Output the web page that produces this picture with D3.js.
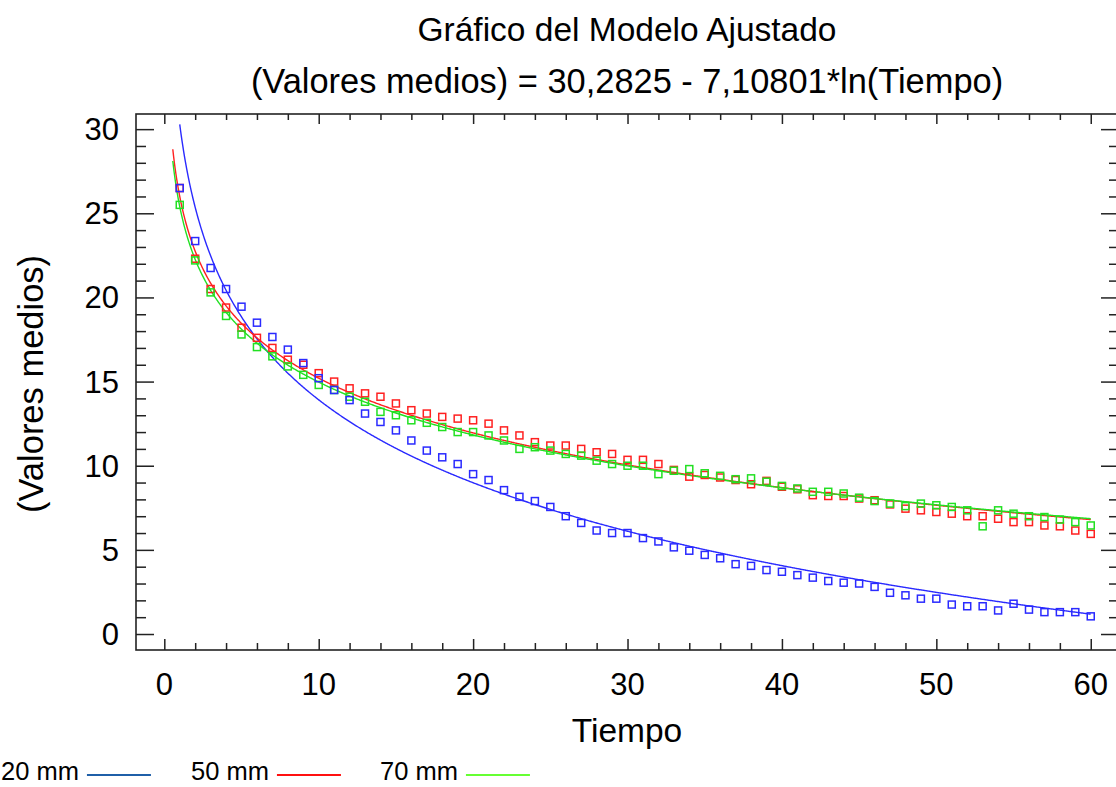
<!DOCTYPE html>
<html>
<head>
<meta charset="utf-8">
<script src="https://cdn.jsdelivr.net/npm/d3@7"></script>
<style>
  html, body { margin: 0; padding: 0; background: #fff; }
  svg { display: block; font-family: "Liberation Sans", Arial, sans-serif; }
</style>
</head>
<body>
<svg id="chart" width="1116" height="787"></svg>
<script>
// ---------------- data ----------------
const tiempo = d3.range(1, 61);
const seriesNames = ["20 mm", "50 mm", "70 mm"];
const values20 = [26.5,23.35,21.75,20.5,19.45,18.5,17.65,16.9,16.1,15.2,
  14.5,13.9,13.1,12.6,12.1,11.5,10.9,10.5,10.1,9.5,
  9.15,8.55,8.15,7.9,7.55,7.0,6.6,6.15,6.0,6.0,
  5.7,5.5,5.15,4.95,4.7,4.5,4.15,4.05,3.8,3.7,
  3.5,3.35,3.15,3.05,3.0,2.8,2.45,2.3,2.1,2.1,
  1.75,1.65,1.65,1.4,1.8,1.45,1.3,1.3,1.3,1.05];
const values50 = [26.5,22.3,20.5,19.4,18.2,17.6,17.0,16.3,16.0,15.5,
  15.0,14.6,14.3,14.1,13.7,13.3,13.1,12.9,12.8,12.7,
  12.5,12.1,11.8,11.4,11.2,11.2,11.0,10.8,10.7,10.35,
  10.35,10.1,9.75,9.35,9.45,9.3,9.15,8.9,9.1,8.75,
  8.6,8.25,8.2,8.2,8.05,7.95,7.7,7.45,7.35,7.25,
  7.15,7.0,7.0,6.85,6.65,6.65,6.45,6.4,6.15,5.95];
const values70 = [25.5,22.2,20.3,18.9,17.8,17.05,16.5,15.9,15.4,14.8,
  14.5,14.1,13.8,13.2,13.0,12.7,12.55,12.3,12.0,12.0,
  11.8,11.5,11.0,11.1,10.9,10.7,10.6,10.3,10.1,10.0,
  10.0,9.5,9.7,9.8,9.55,9.4,9.2,9.25,9.05,8.8,
  8.65,8.45,8.45,8.35,8.1,7.9,7.75,7.6,7.75,7.65,
  7.55,7.35,6.4,7.35,7.15,7.0,6.95,6.8,6.65,6.45];
// fitted model  y = a - b*ln(Tiempo)
const fitIntercept = [30.2825, 26.0, 25.4];
const fitSlope = [7.10801, 4.69, 4.53];
const fitStart = [1, 0.55, 0.55];
const seriesColors = ["#2a2aff", "#ff2020", "#22e022"];
const legendColors = ["#1f5fa8", "#ff1010", "#66ff33"];
const xTicks = [0, 10, 20, 30, 40, 50, 60];
const yTicks = [0, 5, 10, 15, 20, 25, 30];
const titleText = "Gráfico del Modelo Ajustado";
const subtitleText = "(Valores medios) = 30,2825 - 7,10801*ln(Tiempo)";
const xTitle = "Tiempo";
const yTitle = "(Valores medios)";

const allValues = [values20, values50, values70];

// ---------------- layout ----------------
const svg = d3.select("#chart");
const L = 136, T = 114, R = 1119, B = 650;
const x = d3.scaleLinear().domain([-1.833, 61.83]).range([L, R]);
const y = d3.scaleLinear().domain([-0.95, 30.9]).range([B, T]);

const axisColor = "#222";

// Titles
svg.append("text").attr("x", 627).attr("y", 41).attr("text-anchor", "middle")
  .attr("font-size", 33.5).attr("fill", "#000").text(titleText);
svg.append("text").attr("x", 627).attr("y", 93).attr("text-anchor", "middle")
  .attr("font-size", 34.4).attr("fill", "#000").text(subtitleText);

// Axes with ticks (inward)
const minorX = d3.range(0, 61, 2).filter(v => v % 10 !== 0);
const minorY = d3.range(0, 31, 1).filter(v => v % 5 !== 0);

function drawAxis(gen, transform, tickVals, size) {
  const g = svg.append("g").attr("transform", transform)
    .call(gen.tickValues(tickVals).tickSize(size).tickFormat(""));
  g.select(".domain").remove();
  g.selectAll(".tick line").attr("stroke", axisColor).attr("stroke-width", 1.5);
  return g;
}
// bottom: ticks pointing up
drawAxis(d3.axisTop(x), `translate(0,${B})`, xTicks, 11);
drawAxis(d3.axisTop(x), `translate(0,${B})`, minorX, 7);
// top: ticks pointing down
drawAxis(d3.axisBottom(x), `translate(0,${T})`, xTicks, 10);
drawAxis(d3.axisBottom(x), `translate(0,${T})`, minorX, 6);
// left: ticks pointing right
drawAxis(d3.axisRight(y), `translate(${L},0)`, yTicks, 18);
drawAxis(d3.axisRight(y), `translate(${L},0)`, minorY, 10);
// right: ticks pointing left
drawAxis(d3.axisLeft(y), `translate(${R},0)`, yTicks, 18);
drawAxis(d3.axisLeft(y), `translate(${R},0)`, minorY, 10);

// frame
svg.append("rect").attr("x", L).attr("y", T).attr("width", R - L).attr("height", B - T)
  .attr("fill", "none").attr("stroke", axisColor).attr("stroke-width", 1.6);

// Tick labels
svg.append("g").selectAll("text").data(xTicks).join("text")
  .attr("x", d => x(d)).attr("y", 695).attr("text-anchor", "middle")
  .attr("font-size", 31).attr("fill", "#000").text(d => d);
svg.append("g").selectAll("text").data(yTicks).join("text")
  .attr("x", 119).attr("y", d => y(d) + 11).attr("text-anchor", "end")
  .attr("font-size", 31).attr("fill", "#000").text(d => d);

// Axis titles
svg.append("text").attr("x", 627).attr("y", 742).attr("text-anchor", "middle")
  .attr("font-size", 33.5).attr("fill", "#000").text(xTitle);
svg.append("text").attr("transform", "translate(43,384) rotate(-90)")
  .attr("text-anchor", "middle").attr("font-size", 34.5).attr("fill", "#000").text(yTitle);

// Plot content, clipped
svg.append("clipPath").attr("id", "clip").append("rect")
  .attr("x", L).attr("y", T).attr("width", R - L).attr("height", B - T);
const plot = svg.append("g").attr("clip-path", "url(#clip)");

const line = d3.line().x(d => x(d[0])).y(d => y(d[1]));
allValues.forEach((vals, i) => {
  const xs = d3.range(fitStart[i], 60.0001, 0.05);
  const pts = xs.map(t => [t, fitIntercept[i] - fitSlope[i] * Math.log(t)]);
  plot.append("path").datum(pts).attr("d", line).attr("fill", "none")
    .attr("stroke", seriesColors[i]).attr("stroke-width", 1.4);
});
// points: draw 50 mm, 70 mm, then 20 mm on top
[1, 2, 0].forEach(i => {
  plot.append("g").selectAll("rect").data(allValues[i]).join("rect")
    .attr("x", (d, j) => x(tiempo[j]) - 3.5)
    .attr("y", d => y(d) - 3.5)
    .attr("width", 7).attr("height", 7)
    .attr("fill", "none").attr("stroke", seriesColors[i]).attr("stroke-width", 1.5);
});

// Legend
const legendX = [1, 191, 380];
seriesNames.forEach((name, i) => {
  const t = svg.append("text").attr("x", legendX[i]).attr("y", 780)
    .attr("font-size", 25.5).attr("fill", "#000").text(name);
  const w = t.node().getComputedTextLength();
  svg.append("line").attr("x1", legendX[i] + w + 8).attr("x2", legendX[i] + w + 72)
    .attr("y1", 775).attr("y2", 775)
    .attr("stroke", legendColors[i]).attr("stroke-width", 2);
});
</script>
</body>
</html>
